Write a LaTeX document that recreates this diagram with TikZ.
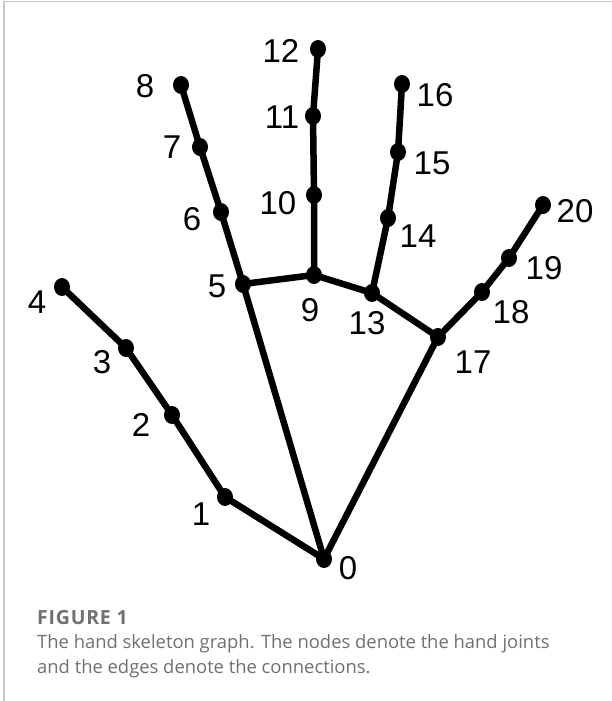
\documentclass[tikz,border=0pt]{standalone}
\usepackage{fontspec}
\setmainfont{Liberation Sans}
\newfontfamily\capfont{Open Sans}
\usetikzlibrary{shapes.geometric}
\pgfdeclarelayer{background}
\pgfsetlayers{background,main}
\definecolor{framegray}{HTML}{C8C8C8}
\definecolor{captiongray}{HTML}{707070}
\tikzset{
  joint/.style={ellipse, fill=black, inner sep=0pt, minimum width=16pt, minimum height=18pt},
  bone/.style={line width=6.5pt, black},
  lbl/.style={inner sep=0pt, font=\fontsize{33}{33}\selectfont},
  captext/.style={inner sep=0pt, anchor=base west, text=captiongray, font=\capfont\fontsize{18.4}{21}\selectfont},
}
\begin{document}
\begin{tikzpicture}[x=1pt, y=-1pt]
\useasboundingbox (0,0) rectangle (612,701);

% joints
\node[joint] (n0)  at (324,559) {};
\node[joint] (n1)  at (225,497) {};
\node[joint] (n2)  at (172,415) {};
\node[joint] (n3)  at (126,348) {};
\node[joint] (n4)  at (62,287) {};
\node[joint] (n5)  at (243,284) {};
\node[joint] (n6)  at (221,212) {};
\node[joint] (n7)  at (200,147) {};
\node[joint] (n8)  at (181,85) {};
\node[joint] (n9)  at (314,275) {};
\node[joint] (n10) at (314,195) {};
\node[joint] (n11) at (313,116) {};
\node[joint] (n12) at (318,49) {};
\node[joint] (n13) at (372,293) {};
\node[joint] (n14) at (388,218) {};
\node[joint] (n15) at (398,152) {};
\node[joint] (n16) at (402,84) {};
\node[joint] (n17) at (438,337) {};
\node[joint] (n18) at (482,292) {};
\node[joint] (n19) at (509,258) {};
\node[joint] (n20) at (543,205) {};

% page, frame and bones sit beneath the joints
\begin{pgfonlayer}{background}
\fill[white] (0,0) rectangle (612,701);
\draw[framegray, line width=1.5pt] (4,701) -- (4,1.5) -- (612,1.5);
\draw[bone] (n0.center) -- (n1.center) -- (n2.center) -- (n3.center) -- (n4.center);
\draw[bone] (n0.center) -- (n5.center) -- (n6.center) -- (n7.center) -- (n8.center);
\draw[bone] (n5.center) -- (n9.center) -- (n10.center) -- (n11.center) -- (n12.center);
\draw[bone] (n9.center) -- (n13.center) -- (n14.center) -- (n15.center) -- (n16.center);
\draw[bone] (n13.center) -- (n17.center) -- (n18.center) -- (n19.center) -- (n20.center);
\draw[bone] (n0.center) -- (n17.center);
\end{pgfonlayer}

% joint numbers
\node[lbl] (l0)  at (348,568) {0};
\node[lbl] (l1)  at (201,514) {1};
\node[lbl] (l2)  at (141,425) {2};
\node[lbl] (l3)  at (102,362) {3};
\node[lbl] (l4)  at (37,302) {4};
\node[lbl] (l5)  at (217,286) {5};
\node[lbl] (l6)  at (192,219) {6};
\node[lbl] (l7)  at (172,147) {7};
\node[lbl] (l8)  at (145,86) {8};
\node[lbl] (l9)  at (310,310) {9};
\node[lbl] (l10) at (278,203) {10};
\node[lbl] (l11) at (282,117) {11};
\node[lbl] (l12) at (281,51) {12};
\node[lbl] (l13) at (367,323) {13};
\node[lbl] (l14) at (418,236) {14};
\node[lbl] (l15) at (432,163) {15};
\node[lbl] (l16) at (435,95) {16};
\node[lbl] (l17) at (473,362) {17};
\node[lbl] (l18) at (511,312) {18};
\node[lbl] (l19) at (544,268) {19};
\node[lbl] (l20) at (575,211) {20};

% caption
\node[captext, font=\capfont\bfseries\fontsize{19.5}{21}\selectfont\addfontfeature{LetterSpace=4}] (figno) at (37,624) {FIGURE 1};
\node[captext] (cap1) at (37,648) {The hand skeleton graph. The nodes denote the hand joints};
\node[captext] (cap2) at (37,673) {and the edges denote the connections.};
\end{tikzpicture}
\end{document}
